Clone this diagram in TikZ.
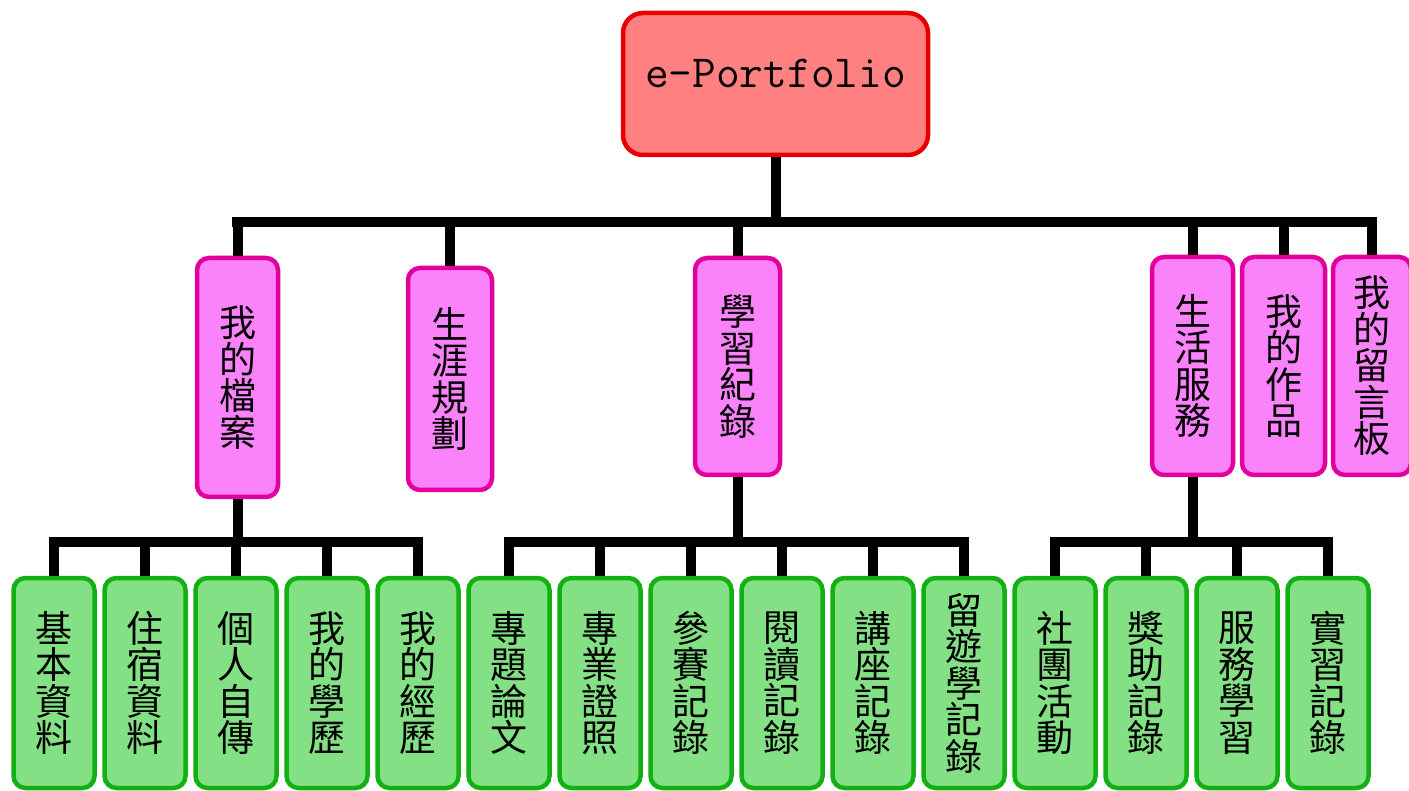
\documentclass[tikz,border=0pt]{standalone}
\usepackage{fontspec}
\newfontfamily\cjk{Noto Sans CJK TC}
\definecolor{topfill}{HTML}{FF8080}
\definecolor{topline}{HTML}{E80000}
\definecolor{midfill}{HTML}{FA82FA}
\definecolor{midline}{HTML}{E2009C}
\definecolor{lowfill}{HTML}{84E084}
\definecolor{lowline}{HTML}{12B012}
\tikzset{
  rootbox/.style={draw=topline, fill=topfill, line width=4.5pt, rounded corners=20pt,
    minimum width=305pt, minimum height=142pt, inner sep=0pt,
    font=\ttfamily\fontsize{46}{46}\selectfont, text height=31pt, text depth=23pt},
  midbox/.style={draw=midline, fill=midfill, line width=4.5pt, rounded corners=12pt,
    inner sep=0pt, align=center, font=\cjk\fontsize{37}{36.5}\selectfont},
  leafbox/.style={draw=lowline, fill=lowfill, line width=4.5pt, rounded corners=12pt,
    minimum width=81pt, minimum height=210pt, inner sep=0pt, align=center,
    font=\cjk\fontsize{37}{36.5}\selectfont},
  conn/.style={draw=black, line width=10pt}
}
\begin{document}
\begin{tikzpicture}[x=1pt,y=-1pt]
\useasboundingbox (0,0) rectangle (1409,791);
\clip (0,0) rectangle (1409,791);
\fill[white] (0,0) rectangle (1409,791);

% bus coordinates
\coordinate (busL) at (237,222);
\coordinate (busR) at (1372,222);
\coordinate (lbus) at (0,542);

\node[rootbox] (root) at (775.5,84) {e-Portfolio};

\node[midbox, minimum width=81pt, minimum height=239pt] (m1) at (237.5,377.5) {我\\的\\檔\\案};
\node[midbox, minimum width=84pt, minimum height=222pt] (m2) at (450,379) {生\\涯\\規\\劃};
\node[midbox, minimum width=85pt, minimum height=217pt] (m3) at (737.5,366.5) {學\\習\\紀\\錄};
\node[midbox, minimum width=81pt, minimum height=218pt] (m4) at (1192.5,366) {生\\活\\服\\務};
\node[midbox, minimum width=83pt, minimum height=218pt] (m5) at (1283.5,366) {我\\的\\作\\品};
\node[midbox, minimum width=78pt, minimum height=218pt] (m6) at (1372,366) {我\\的\\留\\言\\板};

\foreach \t [count=\i from 0] in {%
  {基\\本\\資\\料},{住\\宿\\資\\料},{個\\人\\自\\傳},{我\\的\\學\\歷},{我\\的\\經\\歷},%
  {專\\題\\論\\文},{專\\業\\證\\照},{參\\賽\\記\\錄},{閱\\讀\\記\\錄},{講\\座\\記\\錄},{留\\遊\\學\\記\\錄},%
  {社\\團\\活\\動},{獎\\助\\記\\錄},{服\\務\\學\\習},{實\\習\\記\\錄}}
  {\node[leafbox] (b\i) at ({54+91*\i},683) {\t};}

% level 1 connectors
\draw[conn] (root.south) -- (root.south |- busL);
\draw[conn, line cap=rect] (busL) -- (busR);
\foreach \m in {m1,m2,m3,m4,m5,m6}
  \draw[conn] (\m.north) -- (\m.north |- busL);

% level 2 connectors
\draw[conn] (m1.south) -- (m1.south |- lbus);
\draw[conn, line cap=rect] (b0.north |- lbus) -- (b4.north |- lbus);
\foreach \i in {0,...,4} \draw[conn] (b\i.north) -- (b\i.north |- lbus);

\draw[conn] (m3.south) -- (m3.south |- lbus);
\draw[conn, line cap=rect] (b5.north |- lbus) -- (b10.north |- lbus);
\foreach \i in {5,...,10} \draw[conn] (b\i.north) -- (b\i.north |- lbus);

\draw[conn] (m4.south) -- (m4.south |- lbus);
\draw[conn, line cap=rect] (b11.north |- lbus) -- (b14.north |- lbus);
\foreach \i in {11,...,14} \draw[conn] (b\i.north) -- (b\i.north |- lbus);
\end{tikzpicture}
\end{document}
